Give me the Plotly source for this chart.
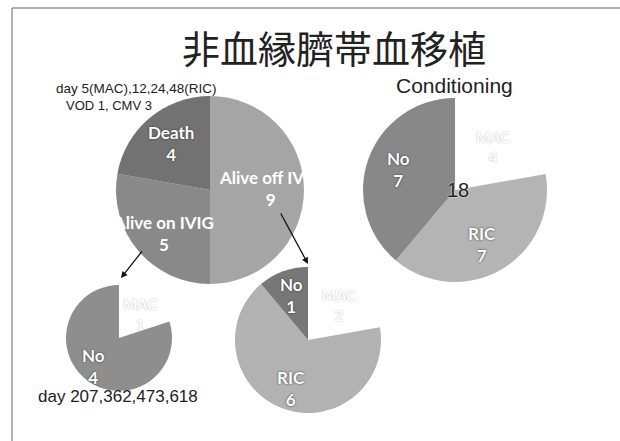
import plotly.graph_objects as go

W, H = 620, 441

# ---- data ----
title_text = "非血縁臍帯血移植"

outcome_labels = ["Alive off IVIG", "Alive on IVIG", "Death"]
outcome_values = [9, 5, 4]

cond_title = "Conditioning"
cond_labels = ["MAC", "RIC", "No"]
cond_values = [4, 7, 7]
cond_total = sum(cond_values)

ivig_labels = ["MAC", "No"]
ivig_values = [1, 4]

off_labels = ["MAC", "RIC", "No"]
off_values = [2, 6, 1]

death_note = ["day 5(MAC),12,24,48(RIC)", "VOD 1, CMV 3"]
ivig_note = "day 207,362,473,618"

# ---- styling ----
LABEL_FAMILY = "Lato, Noto Sans, sans-serif"
label_font = dict(family=LABEL_FAMILY, size=17, color="white", weight=700,
                  shadow="0px 0px 2px #2a2a2a")
# labels running past the pie edge fade into the white page
edge_font = dict(family=LABEL_FAMILY, size=17, color="white", weight=700,
                 shadow="none")
mac_font = dict(family=LABEL_FAMILY, size=15, color="white", weight=700,
                shadow="0px 0px 1.5px #aaa")
plain_font = dict(family="Liberation Sans, Arial, sans-serif", color="#222")


def domain(cx, cy, r):
    return dict(x=[(cx - r) / W, (cx + r) / W],
                y=[1 - (cy + r) / H, 1 - (cy - r) / H])


def pie(labels, values, colors, cx, cy, r):
    return go.Pie(labels=labels, values=values, sort=False,
                  direction="clockwise", rotation=0,
                  marker=dict(colors=colors, line=dict(width=0)),
                  textinfo="none", hoverinfo="skip", showlegend=False,
                  domain=domain(cx, cy, r))


fig = go.Figure()
fig.add_trace(pie(outcome_labels, outcome_values,
                  ["#a5a5a5", "#898989", "#727272"], 210, 190, 94))
fig.add_trace(pie(cond_labels, cond_values,
                  ["#ffffff", "#b4b4b4", "#888888"], 455, 190, 92))
fig.add_trace(pie(ivig_labels, ivig_values,
                  ["#ffffff", "#8e8e8e"], 119, 338, 53))
fig.add_trace(pie(off_labels, off_values,
                  ["#ffffff", "#b2b2b2", "#777777"], 308, 340, 73))

annotations = []


def px_text(text, x, y, font, **kw):
    annotations.append(dict(text=text, x=x / W, y=1 - y / H, xref="paper",
                            yref="paper", showarrow=False, font=font,
                            xanchor=kw.pop("xanchor", "center"),
                            yanchor="middle", borderpad=0, **kw))


def slice_label(label, value, x, y, font):
    px_text(f"{label}<br>{value}", x, y, font)


# outcome pie labels
slice_label(outcome_labels[0], outcome_values[0], 270, 188, edge_font)
slice_label(outcome_labels[1], outcome_values[1], 163, 233, edge_font)
slice_label(outcome_labels[2], outcome_values[2], 171, 144, label_font)

# conditioning pie labels
slice_label(cond_labels[0], cond_values[0], 493, 147, mac_font)
slice_label(cond_labels[1], cond_values[1], 482, 244, label_font)
slice_label(cond_labels[2], cond_values[2], 398, 169, label_font)
px_text(str(cond_total), 458, 190,
        dict(family="Liberation Sans, Arial, sans-serif", size=20, color="#222",
             shadow="0px 0px 2px #fff"))

# IVIG pie labels
slice_label(ivig_labels[0], ivig_values[0], 140, 314, mac_font)
slice_label(ivig_labels[1], ivig_values[1], 93, 366, label_font)

# off-IVIG pie labels
slice_label(off_labels[0], off_values[0], 339, 305, mac_font)
slice_label(off_labels[1], off_values[1], 291, 388, label_font)
slice_label(off_labels[2], off_values[2], 291, 295, label_font)

# headings and notes
px_text(title_text, 334, 47,
        dict(family="Noto Sans CJK JP", size=38, color="#222"))
px_text(cond_title, 454, 85, dict(plain_font, size=21))
px_text(death_note[0], 136, 88, dict(plain_font, size=13.5))
px_text(death_note[1], 109, 105, dict(plain_font, size=13))
px_text(ivig_note, 37, 396, dict(plain_font, size=17), xanchor="left")

# arrows from the outcome slices to their breakdown pies
for (x0, y0), (x1, y1) in [((143, 250), (121, 278)), ((280, 212), (308, 264))]:
    annotations.append(dict(x=x1 / W, y=1 - y1 / H, ax=x0 - x1, ay=y0 - y1,
                            xref="paper", yref="paper", axref="pixel",
                            ayref="pixel", showarrow=True, arrowhead=2,
                            arrowsize=1, arrowwidth=1.3, arrowcolor="#111",
                            text=""))

fig.update_layout(
    width=W, height=H, margin=dict(l=0, r=0, t=0, b=0),
    paper_bgcolor="white", plot_bgcolor="white",
    annotations=annotations,
    shapes=[dict(type="rect", xref="paper", yref="paper",
                 x0=12 / W, x1=1.05, y0=-0.05, y1=1 - 8 / H,
                 line=dict(color="#666", width=1))],
)

fig.write_html("out.html")
